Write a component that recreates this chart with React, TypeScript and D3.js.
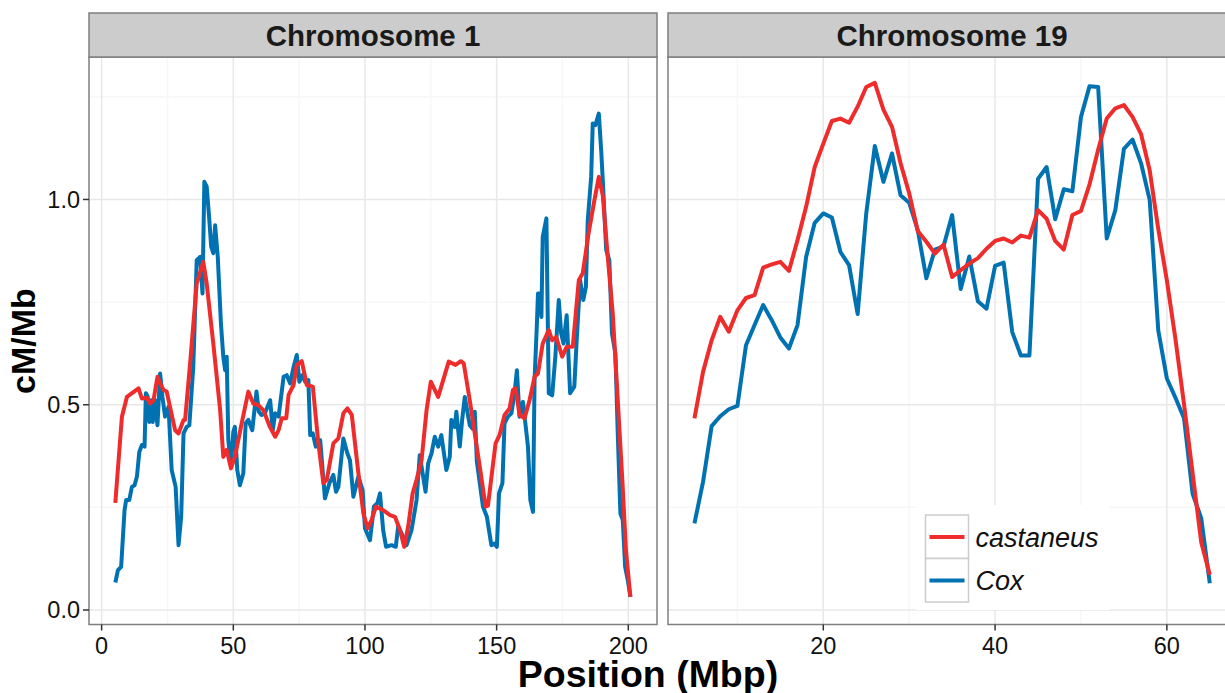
import React from "react";
import * as d3 from "d3";

// recombination rate (cM/Mb) along each chromosome, [position Mbp, rate]
const chr1Castaneus: [number, number][] = [
  [5.2, 0.261], [7.7, 0.471], [9.6, 0.519], [14.0, 0.54], [15.3, 0.515], [17.2, 0.517], [18.4, 0.503],
  [19.7, 0.511], [21.2, 0.568], [22.2, 0.552], [23.5, 0.536], [24.7, 0.532], [27.9, 0.438], [29.2, 0.43],
  [31.1, 0.463], [31.7, 0.463], [33.6, 0.601], [36.1, 0.795], [38.6, 0.848], [39.9, 0.795], [42.4, 0.649],
  [45.0, 0.487], [46.2, 0.373], [47.5, 0.39], [49.1, 0.345], [50.6, 0.373], [53.2, 0.455], [55.7, 0.532],
  [57.6, 0.503], [59.5, 0.499], [61.4, 0.487], [63.9, 0.446], [65.9, 0.422], [67.2, 0.438], [68.4, 0.467],
  [70.1, 0.467], [71.0, 0.524], [72.9, 0.548], [74.1, 0.597], [76.0, 0.606], [77.9, 0.548], [80.2, 0.544],
  [82.3, 0.406], [84.2, 0.309], [85.5, 0.317], [88.0, 0.406], [89.9, 0.418], [91.8, 0.479], [93.3, 0.491],
  [95.0, 0.475], [97.5, 0.333], [99.4, 0.235], [101.0, 0.199], [102.5, 0.219], [104.2, 0.252], [106.9, 0.243],
  [109.5, 0.231], [111.4, 0.227], [113.3, 0.195], [114.9, 0.154], [116.4, 0.203], [118.1, 0.284], [119.6, 0.317],
  [121.5, 0.365], [123.4, 0.487], [125.0, 0.556], [127.8, 0.519], [129.7, 0.56], [131.8, 0.605], [134.4, 0.597],
  [136.4, 0.606], [137.5, 0.601], [139.8, 0.511], [141.7, 0.43], [143.6, 0.349], [145.8, 0.252], [146.7, 0.254],
  [149.6, 0.406], [151.1, 0.426], [153.0, 0.475], [154.9, 0.491], [156.2, 0.536], [157.2, 0.54], [158.7, 0.475],
  [160.6, 0.467], [162.5, 0.511], [164.4, 0.568], [165.7, 0.576], [167.5, 0.649], [169.8, 0.682], [171.1, 0.657],
  [172.6, 0.665], [174.9, 0.617], [176.6, 0.641], [178.9, 0.641], [181.2, 0.803], [182.7, 0.82], [184.9, 0.917],
  [186.9, 0.99], [188.8, 1.055], [190.3, 1.01], [192.2, 0.86], [194.1, 0.722], [196.0, 0.511], [197.8, 0.309],
  [199.1, 0.146], [200.8, 0.032],
];

const chr1Cox: [number, number][] = [
  [5.2, 0.067], [6.2, 0.097], [7.4, 0.105], [8.7, 0.243], [9.3, 0.268], [10.5, 0.268], [11.5, 0.3], [12.5, 0.304],
  [13.4, 0.325], [14.3, 0.385], [15.3, 0.402], [16.3, 0.398], [16.8, 0.528], [17.5, 0.519], [18.1, 0.458],
  [18.8, 0.511], [19.4, 0.458], [20.3, 0.511], [21.2, 0.45], [22.2, 0.576], [23.1, 0.519], [24.1, 0.471],
  [25.4, 0.495], [26.6, 0.341], [28.1, 0.3], [29.2, 0.158], [30.2, 0.227], [31.1, 0.43], [32.3, 0.446],
  [33.3, 0.45], [34.8, 0.592], [36.1, 0.852], [37.4, 0.86], [38.3, 0.771], [39.0, 1.043], [39.9, 1.031],
  [40.8, 0.958], [41.6, 0.885], [42.4, 0.869], [43.1, 0.937], [44.1, 0.86], [45.3, 0.698], [46.2, 0.617],
  [46.9, 0.584], [47.5, 0.617], [48.1, 0.414], [49.1, 0.353], [50.0, 0.434], [50.6, 0.446], [51.5, 0.341],
  [52.5, 0.304], [53.8, 0.333], [54.7, 0.455], [55.7, 0.463], [57.2, 0.438], [58.8, 0.532], [59.7, 0.483],
  [60.7, 0.475], [62.0, 0.479], [64.0, 0.511], [65.0, 0.438], [65.9, 0.479], [67.2, 0.471], [69.1, 0.568],
  [70.3, 0.572], [71.6, 0.552], [72.9, 0.592], [74.1, 0.621], [75.1, 0.556], [76.3, 0.572], [77.3, 0.556],
  [78.5, 0.56], [79.2, 0.426], [80.2, 0.43], [81.3, 0.398], [83.0, 0.414], [84.8, 0.272], [86.5, 0.309],
  [88.0, 0.329], [89.0, 0.288], [89.9, 0.3], [91.8, 0.418], [93.3, 0.382], [94.3, 0.365], [95.6, 0.276],
  [97.5, 0.325], [99.1, 0.292], [100.0, 0.199], [101.9, 0.17], [103.4, 0.252], [104.7, 0.26], [105.7, 0.284],
  [106.9, 0.195], [108.0, 0.154], [110.1, 0.158], [111.7, 0.154], [112.6, 0.203], [113.9, 0.187], [115.8, 0.158],
  [117.7, 0.195], [119.6, 0.268], [120.8, 0.377], [122.1, 0.325], [123.0, 0.288], [124.0, 0.357], [125.3, 0.382],
  [126.5, 0.422], [127.8, 0.398], [129.0, 0.426], [130.9, 0.341], [132.2, 0.373], [132.8, 0.463], [134.1, 0.446],
  [134.7, 0.483], [136.0, 0.398], [136.9, 0.463], [137.9, 0.519], [139.8, 0.45], [140.8, 0.442], [141.7, 0.483],
  [142.5, 0.361], [143.6, 0.309], [144.8, 0.252], [146.3, 0.227], [148.0, 0.158], [149.2, 0.162], [150.1, 0.154],
  [150.9, 0.284], [152.2, 0.309], [153.0, 0.455], [154.3, 0.471], [155.6, 0.479], [156.8, 0.528], [157.7, 0.584],
  [158.7, 0.471], [160.0, 0.507], [161.9, 0.398], [162.8, 0.268], [163.8, 0.239], [164.4, 0.56], [165.3, 0.698],
  [165.7, 0.771], [166.6, 0.771], [167.0, 0.714], [167.5, 0.909], [168.9, 0.954], [169.8, 0.528], [171.1, 0.523],
  [172.3, 0.617], [173.6, 0.755], [174.5, 0.674], [175.4, 0.649], [176.6, 0.718], [177.9, 0.528], [179.5, 0.544],
  [180.4, 0.657], [181.7, 0.803], [182.9, 0.755], [183.9, 0.787], [184.6, 0.949], [185.9, 1.055], [186.5, 1.185],
  [187.5, 1.181], [188.8, 1.209], [189.7, 1.12], [190.5, 1.023], [191.6, 0.877], [192.8, 0.852], [193.8, 0.674],
  [195.1, 0.625], [196.0, 0.43], [197.0, 0.235], [197.9, 0.219], [198.8, 0.105], [199.8, 0.073], [200.8, 0.032],
];

const chr19Castaneus: [number, number][] = [
  [5, 0.467], [6, 0.58], [7, 0.657], [8, 0.714], [9, 0.678], [10, 0.73], [11, 0.76], [12, 0.767], [13, 0.834],
  [14, 0.842], [15, 0.848], [16, 0.826], [17, 0.901], [18, 0.982], [19, 1.079], [20, 1.136], [21, 1.191],
  [22, 1.197], [23, 1.187], [24, 1.226], [25, 1.274], [26, 1.284], [27, 1.219], [28, 1.177], [29, 1.088],
  [30, 1.015], [31, 0.923], [32, 0.897], [33, 0.868], [34, 0.89], [35, 0.811], [36, 0.828], [37, 0.844],
  [38, 0.857], [39, 0.88], [40, 0.899], [41, 0.905], [42, 0.895], [43, 0.912], [44, 0.907], [45, 0.974],
  [46, 0.953], [47, 0.899], [48, 0.878], [49, 0.962], [50, 0.972], [51, 1.037], [52, 1.121], [53, 1.197],
  [54, 1.222], [55, 1.23], [56, 1.201], [57, 1.159], [58, 1.071], [59, 0.928], [60, 0.803], [61, 0.66],
  [62, 0.501], [63, 0.333], [64, 0.165], [65, 0.086],
];

const chr19Cox: [number, number][] = [
  [5, 0.211], [6, 0.312], [7, 0.448], [8, 0.472], [9, 0.489], [10, 0.497], [11, 0.645], [12, 0.694], [13, 0.743],
  [14, 0.706], [15, 0.664], [16, 0.637], [17, 0.694], [18, 0.86], [19, 0.943], [20, 0.966], [21, 0.956],
  [22, 0.872], [23, 0.84], [24, 0.721], [25, 0.966], [26, 1.13], [27, 1.043], [28, 1.112], [29, 1.01],
  [30, 0.992], [31, 0.925], [32, 0.808], [33, 0.878], [34, 0.886], [35, 0.962], [36, 0.782], [37, 0.861],
  [38, 0.752], [39, 0.734], [40, 0.838], [41, 0.846], [42, 0.677], [43, 0.62], [44, 0.62], [45, 1.05],
  [46, 1.079], [47, 0.952], [48, 1.025], [49, 1.02], [50, 1.201], [51, 1.276], [52, 1.274], [53, 0.905],
  [54, 0.974], [55, 1.123], [56, 1.146], [57, 1.088], [58, 0.999], [59, 0.681], [60, 0.564], [61, 0.517],
  [62, 0.467], [63, 0.283], [64, 0.224], [65, 0.065],
];

const seriesNames = ["castaneus", "Cox"];
const panelTitles = ["Chromosome 1", "Chromosome 19"];
const chr1Ticks = [0, 50, 100, 150, 200];
const chr1Minor = [25, 75, 125, 175];
const chr19Ticks = [20, 40, 60];
const chr19Minor = [10, 30, 50];
const yTicks = [0, 0.5, 1.0];
const yMinor = [0.25, 0.75, 1.25];

const colors = ["#EE2C2C", "#0072B2"];
const font = '"Liberation Sans", Arial, Helvetica, sans-serif';

const width = 1225;
const height = 693;
const stripTop = 13;
const panelTop = 57;
const panelBottom = 624.5;

export default function App() {
  const y = d3.scaleLinear().domain([-0.0353, 1.347]).range([panelBottom, panelTop]);

  const panels = [
    { title: panelTitles[0], left: 89, right: 657, domain: [-4.8, 210.9], ticks: chr1Ticks, minor: chr1Minor, series: [chr1Castaneus, chr1Cox] },
    { title: panelTitles[1], left: 668, right: 1236, domain: [1.92, 68.05], ticks: chr19Ticks, minor: chr19Minor, series: [chr19Castaneus, chr19Cox] },
  ];

  return (
    <svg width={width} height={height} style={{ position: "absolute", left: 0, top: 0, fontFamily: font }}>
      <rect width={width} height={height} fill="white" />
      {panels.map((p, pi) => {
        const x = d3.scaleLinear().domain(p.domain).range([p.left, p.right]);
        const line = d3.line<[number, number]>().x(d => x(d[0])).y(d => y(d[1]));
        return (
          <g key={pi}>
            <rect x={p.left} y={panelTop} width={p.right - p.left} height={panelBottom - panelTop} fill="white" />
            {/* grid */}
            {p.minor.map(t => (
              <line key={"xm" + t} x1={x(t)} x2={x(t)} y1={panelTop} y2={panelBottom} stroke="#f7f7f7" strokeWidth={1.5} />
            ))}
            {yMinor.map(t => (
              <line key={"ym" + t} x1={p.left} x2={p.right} y1={y(t)} y2={y(t)} stroke="#f7f7f7" strokeWidth={1.5} />
            ))}
            {p.ticks.map(t => (
              <line key={"xg" + t} x1={x(t)} x2={x(t)} y1={panelTop} y2={panelBottom} stroke="#e8e8e8" strokeWidth={1.5} />
            ))}
            {yTicks.map(t => (
              <line key={"yg" + t} x1={p.left} x2={p.right} y1={y(t)} y2={y(t)} stroke="#e8e8e8" strokeWidth={1.5} />
            ))}
            {/* series: Cox underneath, castaneus on top */}
            {[1, 0].map(si => (
              <path key={"s" + si} d={line(p.series[si]) || ""} fill="none" stroke={colors[si]}
                strokeWidth={4} strokeLinejoin="round" />
            ))}
            <rect x={p.left} y={panelTop} width={p.right - p.left} height={panelBottom - panelTop}
              fill="none" stroke="#7f7f7f" strokeWidth={1.5} />
            {/* strip */}
            <rect x={p.left} y={stripTop} width={p.right - p.left} height={panelTop - stripTop}
              fill="#cccccc" stroke="#7f7f7f" strokeWidth={1.5} />
            <text x={(p.left + p.right) / 2} y={45.5} textAnchor="middle" fontSize={29.5} fontWeight="bold" fill="#1a1a1a">
              {p.title}
            </text>
            {/* x axis */}
            {p.ticks.map(t => (
              <g key={"xt" + t}>
                <line x1={x(t)} x2={x(t)} y1={panelBottom} y2={panelBottom + 6} stroke="#333" strokeWidth={1.5} />
                <text x={x(t)} y={653.5} textAnchor="middle" fontSize={23.5} fill="#111">{t}</text>
              </g>
            ))}
            {/* y axis on the first panel only */}
            {pi === 0 && yTicks.map(t => (
              <g key={"yt" + t}>
                <line x1={p.left - 6} x2={p.left} y1={y(t)} y2={y(t)} stroke="#333" strokeWidth={1.5} />
                <text x={p.left - 9} y={y(t)} dy="0.36em" textAnchor="end" fontSize={23.5} fill="#111">
                  {d3.format(".1f")(t)}
                </text>
              </g>
            ))}
          </g>
        );
      })}

      {/* legend */}
      <g transform="translate(916,505)">
        <rect width={193} height={105} fill="white" />
        {seriesNames.map((name, i) => (
          <g key={name} transform={`translate(9.5,${10 + i * 43.5})`}>
            <rect width={43} height={43.5} fill="white" stroke="#cccccc" strokeWidth={1.5} />
            <line x1={4} x2={39} y1={22} y2={22} stroke={colors[i]} strokeWidth={4} />
            <text x={50} y={31.5} fontSize={27} fontStyle="italic" fill="#111">{name}</text>
          </g>
        ))}
      </g>

      <text x={648} y={687} textAnchor="middle" fontSize={37.5} fontWeight="bold" fill="#000">Position (Mbp)</text>
      <text transform="translate(35,341) rotate(-90)" textAnchor="middle" fontSize={34} fontWeight="bold" fill="#000">cM/Mb</text>
    </svg>
  );
}
